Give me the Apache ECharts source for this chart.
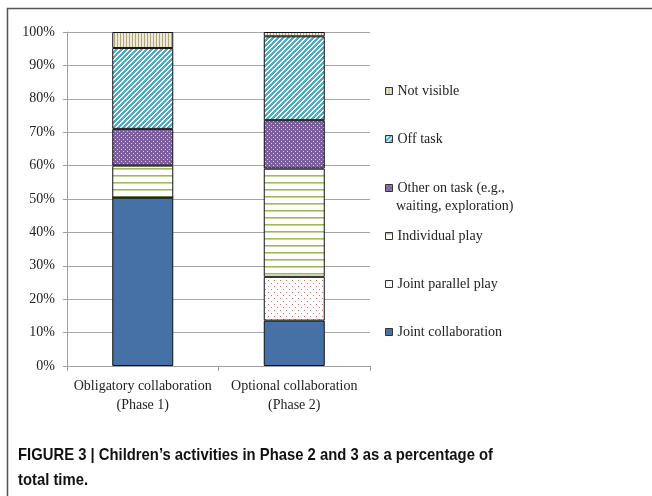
<!DOCTYPE html>
<html lang="en">
  <head>
    <meta charset="UTF-8" />
    <title>Children's activities</title>
    <script src="https://cdn.jsdelivr.net/npm/echarts@6/dist/echarts.min.js"></script>
    <style>
      body {
        margin: 0;
        background-color: #ffffff;
      }
      #chart {
        width: 652px;
        height: 496px;
      }
    </style>
  </head>
  <body>
    <div id="chart"></div>
    <script>
      // categories and values (percent of total time)
      var categories = [
        "Obligatory collaboration\n(Phase 1)",
        "Optional collaboration\n(Phase 2)",
      ];
      var jointCollab = [50.4, 13.6];
      var jointParallel = [0, 13.1];
      var individualPlay = [9.6, 32.4];
      var otherOnTask = [11.0, 14.5];
      var offTask = [24.2, 25.1];
      var notVisible = [4.8, 1.3];
      var yTicks = [0, 10, 20, 30, 40, 50, 60, 70, 80, 90, 100];

      var serif = '"Liberation Serif", "DejaVu Serif", serif';

      // small canvas tiles used as fill patterns
      function tile(w, h, draw) {
        var c = document.createElement("canvas");
        c.width = w;
        c.height = h;
        draw(c.getContext("2d"));
        return { image: c, repeat: "repeat" };
      }

      var patNotVisible = tile(3, 4, function (g) {
        g.fillStyle = "#eeead6";
        g.fillRect(0, 0, 3, 4);
        g.fillStyle = "#aea77f";
        g.fillRect(0, 0, 1, 4);
      });
      var patOffTask = tile(5, 5, function (g) {
        g.fillStyle = "#ffffff";
        g.fillRect(0, 0, 5, 5);
        g.fillStyle = "#4aacc5";
        // "/" diagonal, 3px thick out of 5
        for (var i = 0; i < 5; i++) {
          for (var k = 0; k < 3; k++) {
            g.fillRect((4 - i + k) % 5, i, 1, 1);
          }
        }
      });
      var patOther = tile(4, 4, function (g) {
        g.fillStyle = "#7d5fa0";
        g.fillRect(0, 0, 4, 4);
        g.fillStyle = "#d6cbe4";
        g.fillRect(1, 1, 1, 1);
        g.fillRect(3, 3, 1, 1);
      });
      var patIndividual = tile(4, 7, function (g) {
        g.fillStyle = "#ffffff";
        g.fillRect(0, 0, 4, 7);
        g.fillStyle = "#9bbb59";
        g.fillRect(0, 0, 4, 1);
        g.fillStyle = "#c5d89c";
        g.fillRect(0, 1, 4, 1);
      });
      var patParallel = tile(6, 6, function (g) {
        g.fillStyle = "#ffffff";
        g.fillRect(0, 0, 6, 6);
        g.fillStyle = "#d9706d";
        g.fillRect(1, 1, 1, 1);
        g.fillRect(4, 4, 1, 1);
      });

      var seriesDefs = [
        { name: "Joint collaboration", data: jointCollab, color: "#4571a6" },
        { name: "Joint parallel play", data: jointParallel, color: patParallel },
        { name: "Individual play", data: individualPlay, color: patIndividual },
        { name: "Other on task (e.g.,", data: otherOnTask, color: patOther },
        { name: "Off task", data: offTask, color: patOffTask },
        { name: "Not visible", data: notVisible, color: patNotVisible },
      ];

      // legend rows, top to bottom (text centre y)
      var legendRows = [
        ["Not visible", 90],
        ["Off task", 138],
        ["Other on task (e.g.,", 187],
        ["Individual play", 235],
        ["Joint parallel play", 283],
        ["Joint collaboration", 331],
      ];

      var chart = echarts.init(document.getElementById("chart"));

      // caption width fit
      var capFont = 'bold 17px "Liberation Sans", Arial, sans-serif';
      var capLine1 = "FIGURE 3 | Children\u2019s activities in Phase 2 and 3 as a percentage of";
      var mc = document.createElement("canvas").getContext("2d");
      mc.font = capFont;
      var capScale = 475 / mc.measureText(capLine1).width;

      var options = {
        animation: false,
        grid: { left: 67, right: 282, top: 32, bottom: 130 },
        legend: legendRows.map(function (r) {
          return {
            data: [r[0]],
            left: 385,
            top: r[1] - 6,
            padding: 0,
            icon: "rect",
            itemWidth: 7,
            itemHeight: 7,
            itemGap: 0,
            itemStyle: { borderColor: "#333", borderWidth: 1 },
            textStyle: { fontFamily: serif, fontSize: 14, color: "#222" },
            selectedMode: false,
          };
        }),
        xAxis: {
          type: "category",
          data: categories,
          axisLine: { lineStyle: { color: "#a0a0a0" } },
          axisTick: { show: true, length: 5, lineStyle: { color: "#a0a0a0" } },
          axisLabel: {
            interval: 0,
            fontFamily: serif,
            fontSize: 14,
            color: "#222",
            lineHeight: 19,
            margin: 11,
          },
        },
        yAxis: {
          type: "value",
          min: 0,
          max: 100,
          interval: 10,
          axisLine: { show: true, lineStyle: { color: "#a0a0a0" } },
          axisTick: { show: true, length: 4, lineStyle: { color: "#a0a0a0" } },
          splitLine: { lineStyle: { color: "#a6a6a6", width: 1 } },
          axisLabel: {
            fontFamily: serif,
            fontSize: 14,
            color: "#222",
            margin: 12,
            formatter: function (v) {
              return yTicks.indexOf(v) >= 0 ? v + "%" : "";
            },
          },
        },
        series: seriesDefs.map(function (s) {
          return {
            name: s.name,
            type: "bar",
            stack: "total",
            data: s.data,
            barWidth: 61,
            itemStyle: { color: s.color, borderColor: "#111", borderWidth: 1 },
          };
        }),
        graphic: [
          {
            type: "rect",
            shape: { x: 7.5, y: 8.5, width: 700, height: 600 },
            style: { fill: "none", stroke: "#555", lineWidth: 1.5 },
            silent: true,
          },
          {
            type: "text",
            x: 396,
            y: 206,
            style: {
              text: "waiting, exploration)",
              font: '14px "Liberation Serif", "DejaVu Serif", serif',
              fill: "#222",
              verticalAlign: "middle",
            },
          },
          {
            type: "text",
            x: 18,
            y: 455,
            scaleX: capScale,
            style: {
              text: capLine1,
              font: capFont,
              fill: "#111",
              verticalAlign: "middle",
            },
          },
          {
            type: "text",
            x: 18,
            y: 480,
            scaleX: capScale,
            style: {
              text: "total time.",
              font: capFont,
              fill: "#111",
              verticalAlign: "middle",
            },
          },
        ],
      };

      chart.setOption(options);
    </script>
  </body>
</html>
